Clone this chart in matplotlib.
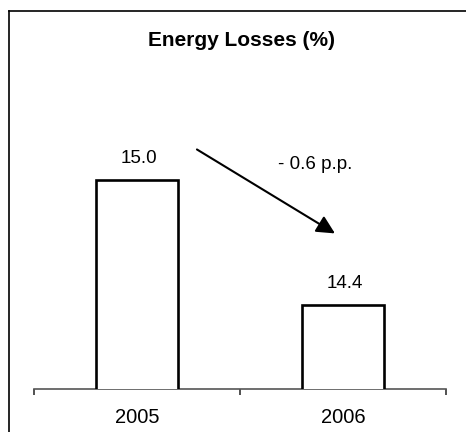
import matplotlib
matplotlib.use("Agg")
import matplotlib.pyplot as plt
from matplotlib.lines import Line2D

years = ["2005", "2006"]
losses = [15.0, 14.4]
change_label = "- 0.6 p.p."
title = "Energy Losses (%)"

plt.rcParams['font.family'] = ['Liberation Sans', 'DejaVu Sans']

fig = plt.figure(figsize=(4.66, 4.32), dpi=100)
ax = fig.add_axes([34 / 466, 1 - 389 / 432, 412 / 466, 378 / 432])

x = list(range(len(years)))
ax.bar(x, losses, width=0.4, bottom=0, facecolor="white",
       edgecolor="black", linewidth=1.9, zorder=3)
ax.set_xlim(-0.5, 1.5)
ax.set_ylim(14.0, 15.81)

# value labels above the bars
for xi, v in zip(x, losses):
    ax.annotate(f"{v:.1f}", (xi, v), xytext=(1.5, 12.5), textcoords="offset points",
                ha="center", va="baseline", fontsize=13.5)

# arrow showing the drop
ax.annotate("", xy=(0.961, 14.745), xytext=(0.291, 15.147),
            arrowprops=dict(arrowstyle="-|>,head_length=0.5,head_width=0.25",
                            mutation_scale=22, lw=1.5, color="black",
                            shrinkA=0, shrinkB=0))
ax.text(0.866, 15.075, change_label, ha="center", va="center", fontsize=13.5)

# only the bottom axis with ticks between categories
for side in ["left", "right", "top"]:
    ax.spines[side].set_visible(False)
ax.spines["bottom"].set_color("#555555")
ax.spines["bottom"].set_linewidth(1.2)
ax.set_yticks([])
ax.set_xticks(x)
ax.set_xticklabels(years, fontsize=14.5)
ax.set_xticks([-0.5, 0.5, 1.5], minor=True)
ax.tick_params(axis="x", which="major", length=0, pad=14)
ax.tick_params(axis="x", which="minor", length=4, width=1.2, color="#333333", direction="out")

fig.text(241.5 / 466, 1 - 40 / 432, title, ha="center", va="center",
         fontsize=15, fontweight="bold")

# outer frame (left and top edges)
fig.add_artist(Line2D([9 / 466, 9 / 466], [0, 1 - 11 / 432], transform=fig.transFigure,
                      color="black", lw=1.2))
fig.add_artist(Line2D([9 / 466, 1], [1 - 11 / 432, 1 - 11 / 432], transform=fig.transFigure,
                      color="black", lw=1.2))

fig.savefig("out.png", dpi=100)
